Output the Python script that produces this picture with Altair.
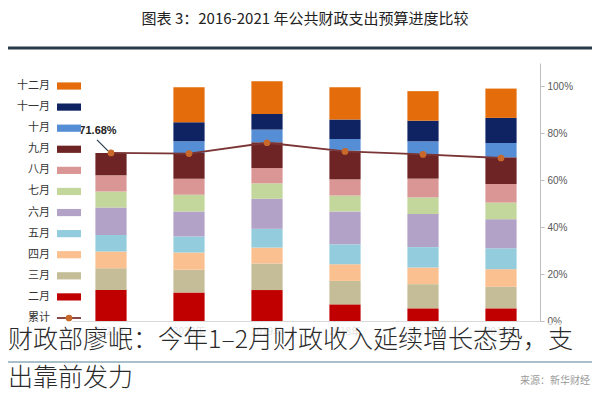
import altair as alt
import pandas as pd

# ---------------- data ----------------
years = ["2021年", "2020年", "2019年", "2018年", "2017年", "2016年"]
months = ["十二月", "十一月", "十月", "九月", "八月", "七月", "六月", "五月", "四月", "三月", "二月"]
month_colors = ["#e46c0a", "#0f2362", "#558ed5", "#6e2424", "#d99694", "#c3d69b",
                "#b3a2c7", "#93cddd", "#fac090", "#c4bd97", "#c00000"]
stack_order = ["二月", "三月", "四月", "五月", "六月", "七月", "八月", "九月", "十月", "十一月", "十二月"]

# monthly progress (% of annual budget), bottom (二月) first
inc_2021 = [13.2, 9.3, 7.1, 7.1, 11.7, 6.8, 6.9, 9.58]
inc_2020 = [12.2, 9.6, 7.4, 6.8, 10.7, 7.1, 6.9, 10.9, 5.0, 8.1, 15.0]
inc_2019 = [13.2, 11.3, 6.8, 8.0, 12.8, 6.6, 6.5, 11.0, 5.4, 6.7, 13.9]
inc_2018 = [7.1, 10.0, 7.1, 8.5, 14.0, 6.8, 6.9, 12.2, 5.0, 8.3, 13.8]
inc_2017 = [5.4, 10.3, 7.1, 8.7, 14.1, 7.1, 8.0, 10.5, 5.4, 8.8, 12.6]
inc_2016 = [5.4, 9.2, 7.5, 8.9, 12.4, 7.1, 7.9, 11.4, 6.1, 10.7, 12.5]
all_incs = [inc_2021, inc_2020, inc_2019, inc_2018, inc_2017, inc_2016]

# 累计 (cumulative through September)
cum_sep = [71.68, 71.4, 76.0, 72.3, 71.0, 69.5]

title_text = "图表 3：2016-2021 年公共财政支出预算进度比较"
caption_1 = "财政部廖岷：今年1–2月财政收入延续增长态势，支"
caption_2 = "出靠前发力"
source_text = "来源：新华财经"
legend_rows = months + ["累计"]

# ---------------- tables ----------------
rows = []
for y, incs in zip(years, all_incs):
    for i, v in enumerate(incs):
        rows.append({"year": y, "month": stack_order[i], "idx": i, "value": v / 100})
bars_df = pd.DataFrame(rows)
line_df = pd.DataFrame({"year": years, "cum": [v / 100 for v in cum_sep]})
ann_df = line_df.iloc[[0]]
one = pd.DataFrame({"k": [0]})

CJK = "Noto Sans CJK SC"
LINE_C = "#7b3535"
DOT_C = "#c8682a"

x_enc = alt.X("year:N", sort=years,
              scale=alt.Scale(paddingInner=0.6, paddingOuter=0.3),
              axis=alt.Axis(title=None, labelAngle=0, ticks=False, domainColor="#d9d9d9",
                            labelColor="#b8b8b8", labelFontSize=10, labelPadding=5, labelFont=CJK))
x_plain = alt.X("year:N", sort=years)
y_scale = alt.Scale(domain=[0, 1.1], nice=False, zero=True)
color_scale = alt.Scale(domain=months, range=month_colors)

bars = alt.Chart(bars_df).mark_bar().encode(
    x=x_enc,
    y=alt.Y("value:Q", stack="zero", scale=y_scale,
            axis=alt.Axis(orient="right", title=None, format=".0%",
                          values=[0, 0.2, 0.4, 0.6, 0.8, 1.0], grid=False,
                          domainColor="#bfbfbf", tickColor="#bfbfbf", tickSize=4,
                          labelColor="#595959", labelFontSize=10, labelPadding=3,
                          labelFont="Liberation Sans")),
    color=alt.Color("month:N", scale=color_scale, legend=None),
    order=alt.Order("idx:Q", sort="ascending"),
)

line = alt.Chart(line_df).mark_line(color=LINE_C, strokeWidth=1.8).encode(
    x=x_plain, y=alt.Y("cum:Q", scale=y_scale, axis=None))
dots = alt.Chart(line_df).mark_point(filled=True, color=DOT_C, size=45, opacity=1).encode(
    x=x_plain, y=alt.Y("cum:Q", scale=y_scale, axis=None))

ann_text = alt.Chart(ann_df).mark_text(dx=-13, dy=-22, fontSize=11, fontWeight="bold",
                                       color="#222222", font="Liberation Sans").encode(
    x=x_plain, y=alt.Y("cum:Q", scale=y_scale, axis=None),
    text=alt.Text("cum:Q", format=".2%"))
ann_rule = alt.Chart(ann_df).mark_rule(color="#2b3d52", strokeWidth=1.3,
                                       xOffset=-14, yOffset=-13, x2Offset=-3, y2Offset=-2).encode(
    x=x_plain, y=alt.Y("cum:Q", scale=y_scale, axis=None),
    x2=alt.X2("year"), y2=alt.Y2("cum"))

# ---------------- legend (left, labels before swatches) ----------------
leg_y = alt.Y("month:N", sort=legend_rows,
              scale=alt.Scale(type="point", domain=legend_rows, range=[23, 255], padding=0),
              axis=None)
leg_sw = alt.Chart(pd.DataFrame({"month": months})).mark_point(
    shape="M-1,-0.3H1V0.3H-1Z", filled=True, size=576, opacity=1, strokeWidth=0).encode(
    x=alt.value(-3), y=leg_y, color=alt.Color("month:N", scale=color_scale, legend=None))
leg_lab = alt.Chart(pd.DataFrame({"month": legend_rows})).mark_text(
    align="right", baseline="middle", fontSize=11, color="#333333", font=CJK).encode(
    x=alt.value(-22), y=leg_y, text="month:N")
cum_df = pd.DataFrame({"month": ["累计"]})
leg_line = alt.Chart(cum_df).mark_rule(color=LINE_C, strokeWidth=1.8).encode(
    x=alt.value(-15), x2=alt.value(9), y=leg_y)
leg_dot = alt.Chart(cum_df).mark_point(filled=True, color=DOT_C, size=45, opacity=1).encode(
    x=alt.value(-3), y=leg_y)

# ---------------- decoration ----------------
title = alt.Chart(one).mark_text(fontSize=15, color="#222222", font=CJK, align="center",
                                 baseline="middle").encode(
    x=alt.value(233), y=alt.value(-44), text=alt.value(title_text))
top_rule = alt.Chart(one).mark_rule(color="#2b3a47", strokeWidth=3).encode(
    x=alt.value(-64), x2=alt.value(528), y=alt.value(-15))
veil = alt.Chart(one).mark_rect(color="white", opacity=0.6).encode(
    x=alt.value(-64), x2=alt.value(528), y=alt.value(260), y2=alt.value(330))
low_rule = alt.Chart(one).mark_rule(color="#a9bfcc", strokeWidth=2).encode(
    x=alt.value(-64), x2=alt.value(528), y=alt.value(299))
cap1 = alt.Chart(one).mark_text(fontSize=25, fontWeight=300, color="#2a2a2a", font=CJK,
                                align="left", baseline="middle").encode(
    x=alt.value(-64), y=alt.value(277), text=alt.value(caption_1))
cap2 = alt.Chart(one).mark_text(fontSize=25, fontWeight=300, color="#2a2a2a", font=CJK,
                                align="left", baseline="middle").encode(
    x=alt.value(-64), y=alt.value(315), text=alt.value(caption_2))
source = alt.Chart(one).mark_text(fontSize=10, color="#9a9a9a", font=CJK, align="right",
                                  baseline="middle").encode(
    x=alt.value(518), y=alt.value(318), text=alt.value(source_text))

chart = alt.layer(
    bars, line, dots, ann_rule, ann_text,
    leg_sw, leg_lab, leg_line, leg_dot,
    title, top_rule, veil, low_rule, cap1, cap2, source,
).resolve_scale(y="independent").properties(
    width=468, height=258,
    autosize=alt.AutoSizeParams(type="none"),
    padding={"left": 64, "top": 55, "right": 52, "bottom": 71},
    background="white",
).configure_view(stroke=None)

chart.save("out.html", embed_options={"renderer": "svg", "actions": False})
